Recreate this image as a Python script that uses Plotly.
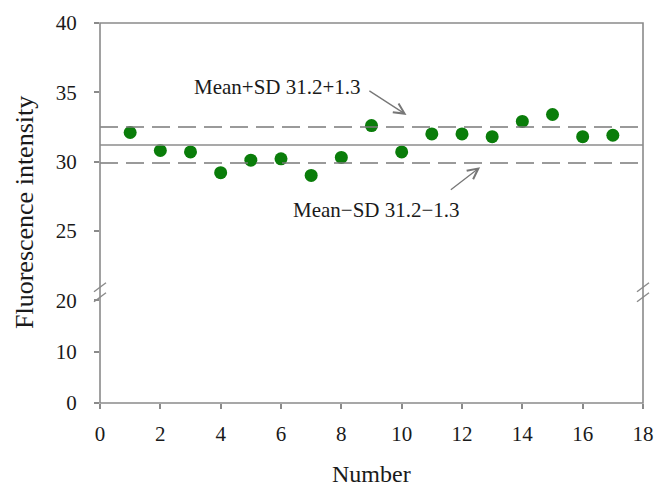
import plotly.graph_objects as go

numbers = list(range(1, 18))
intensity = [32.1, 30.8, 30.7, 29.2, 30.1, 30.2, 29.0, 30.3, 32.6, 30.7,
             32.0, 32.0, 31.8, 32.9, 33.4, 31.8, 31.9]
mean_val = 31.2
sd_val = 1.3
x_ticks = [0, 2, 4, 6, 8, 10, 12, 14, 16, 18]
y_low_ticks = [0, 10, 20]
y_up_ticks = [25, 30, 35, 40]

FONT = "Liberation Serif"
TXT = "#1a1a1a"
AX = "#8a8a8a"

fig = go.Figure()
# empty trace so that the lower (0-20) panel exists
fig.add_trace(go.Scatter(x=[None], y=[None], mode="markers", xaxis="x", yaxis="y",
                         showlegend=False, hoverinfo="skip"))
fig.add_trace(go.Scatter(
    x=numbers, y=intensity, mode="markers", xaxis="x", yaxis="y2",
    marker=dict(color="#0a7d0a", size=13), showlegend=False))

# mean and mean±SD lines across full x range
fig.add_trace(go.Scatter(x=[0, 18], y=[mean_val, mean_val], mode="lines",
                         xaxis="x", yaxis="y2", showlegend=False,
                         line=dict(color="#8c8c8c", width=1.6)))
for v in (mean_val + sd_val, mean_val - sd_val):
    fig.add_trace(go.Scatter(x=[0, 18], y=[v, v], mode="lines",
                             xaxis="x", yaxis="y2", showlegend=False,
                             line=dict(color="#7a7a7a", width=1.6, dash="18px,8px")))

low_frac = 0.2705
tick_common = dict(ticks="outside", ticklen=5, tickcolor=AX, tickwidth=1.5,
                   showgrid=False, zeroline=False, showline=False, automargin=False,
                   tickfont=dict(size=21, family=FONT, color=TXT))
fig.update_layout(
    width=657, height=487,
    margin=dict(l=100, r=14, t=23, b=84.3),
    plot_bgcolor="white", paper_bgcolor="white",
    font=dict(family=FONT, color=TXT),
    xaxis=dict(range=[0, 18], tickvals=x_ticks, anchor="y",
               ticklabelstandoff=7, **tick_common),
    yaxis=dict(domain=[0, low_frac], range=[0, 20], tickvals=y_low_ticks,
               anchor="x", ticklabelstandoff=13, **tick_common),
    yaxis2=dict(domain=[low_frac, 1], range=[20, 40], tickvals=y_up_ticks,
                anchor="x", ticklabelstandoff=13, **tick_common),
)

shapes = [dict(type="rect", xref="paper", yref="paper", x0=0, x1=1, y0=0, y1=1,
               line=dict(color=AX, width=1.6), layer="above")]
# axis break marks on left and right
H = 379.7
W = 543.0
brk_y = (402.7 - 292) / H
for xp in (0, 1):
    for dy in (-5, 5):
        yc = brk_y + dy / H
        shapes.append(dict(type="line", xref="paper", yref="paper",
                           x0=xp - 6 / W, x1=xp + 6 / W,
                           y0=yc - 4.5 / H, y1=yc + 4.5 / H,
                           line=dict(color=AX, width=1.4)))
fig.update_layout(shapes=shapes)

annotations = [
    dict(text="Mean+SD 31.2+1.3", x=5.9, y=35.4, xref="x", yref="y2",
         xanchor="center", yanchor="middle",
         showarrow=False, font=dict(size=21, family=FONT, color=TXT)),
    dict(text="Mean\u2212SD 31.2\u22121.3", x=9.15, y=26.5, xref="x", yref="y2",
         xanchor="center", yanchor="middle",
         showarrow=False, font=dict(size=21, family=FONT, color=TXT)),
    dict(text="", x=10.16, y=33.37, ax=8.88, ay=35.17, xref="x", yref="y2",
         axref="x", ayref="y2", showarrow=True, arrowhead=5, arrowsize=1.6,
         arrowwidth=1.3, arrowcolor="#777777"),
    dict(text="", x=12.6, y=29.6, ax=11.58, ay=27.89, xref="x", yref="y2",
         axref="x", ayref="y2", showarrow=True, arrowhead=5, arrowsize=1.6,
         arrowwidth=1.3, arrowcolor="#777777"),
    dict(text="Fluorescence intensity", x=-76 / W, y=0.5, xref="paper", yref="paper",
         xanchor="center", yanchor="middle",
         textangle=-90, showarrow=False, font=dict(size=26, family=FONT, color=TXT)),
    dict(text="Number", x=0.5, y=(402.7 - 474) / H, xref="paper", yref="paper",
         xanchor="center", yanchor="middle",
         showarrow=False, font=dict(size=24, family=FONT, color=TXT)),
]
fig.update_layout(annotations=annotations)

fig.write_html("out.html", config={"displayModeBar": False},
               post_script="document.body.style.margin='0';"
                           "document.body.style.overflow='hidden';")
